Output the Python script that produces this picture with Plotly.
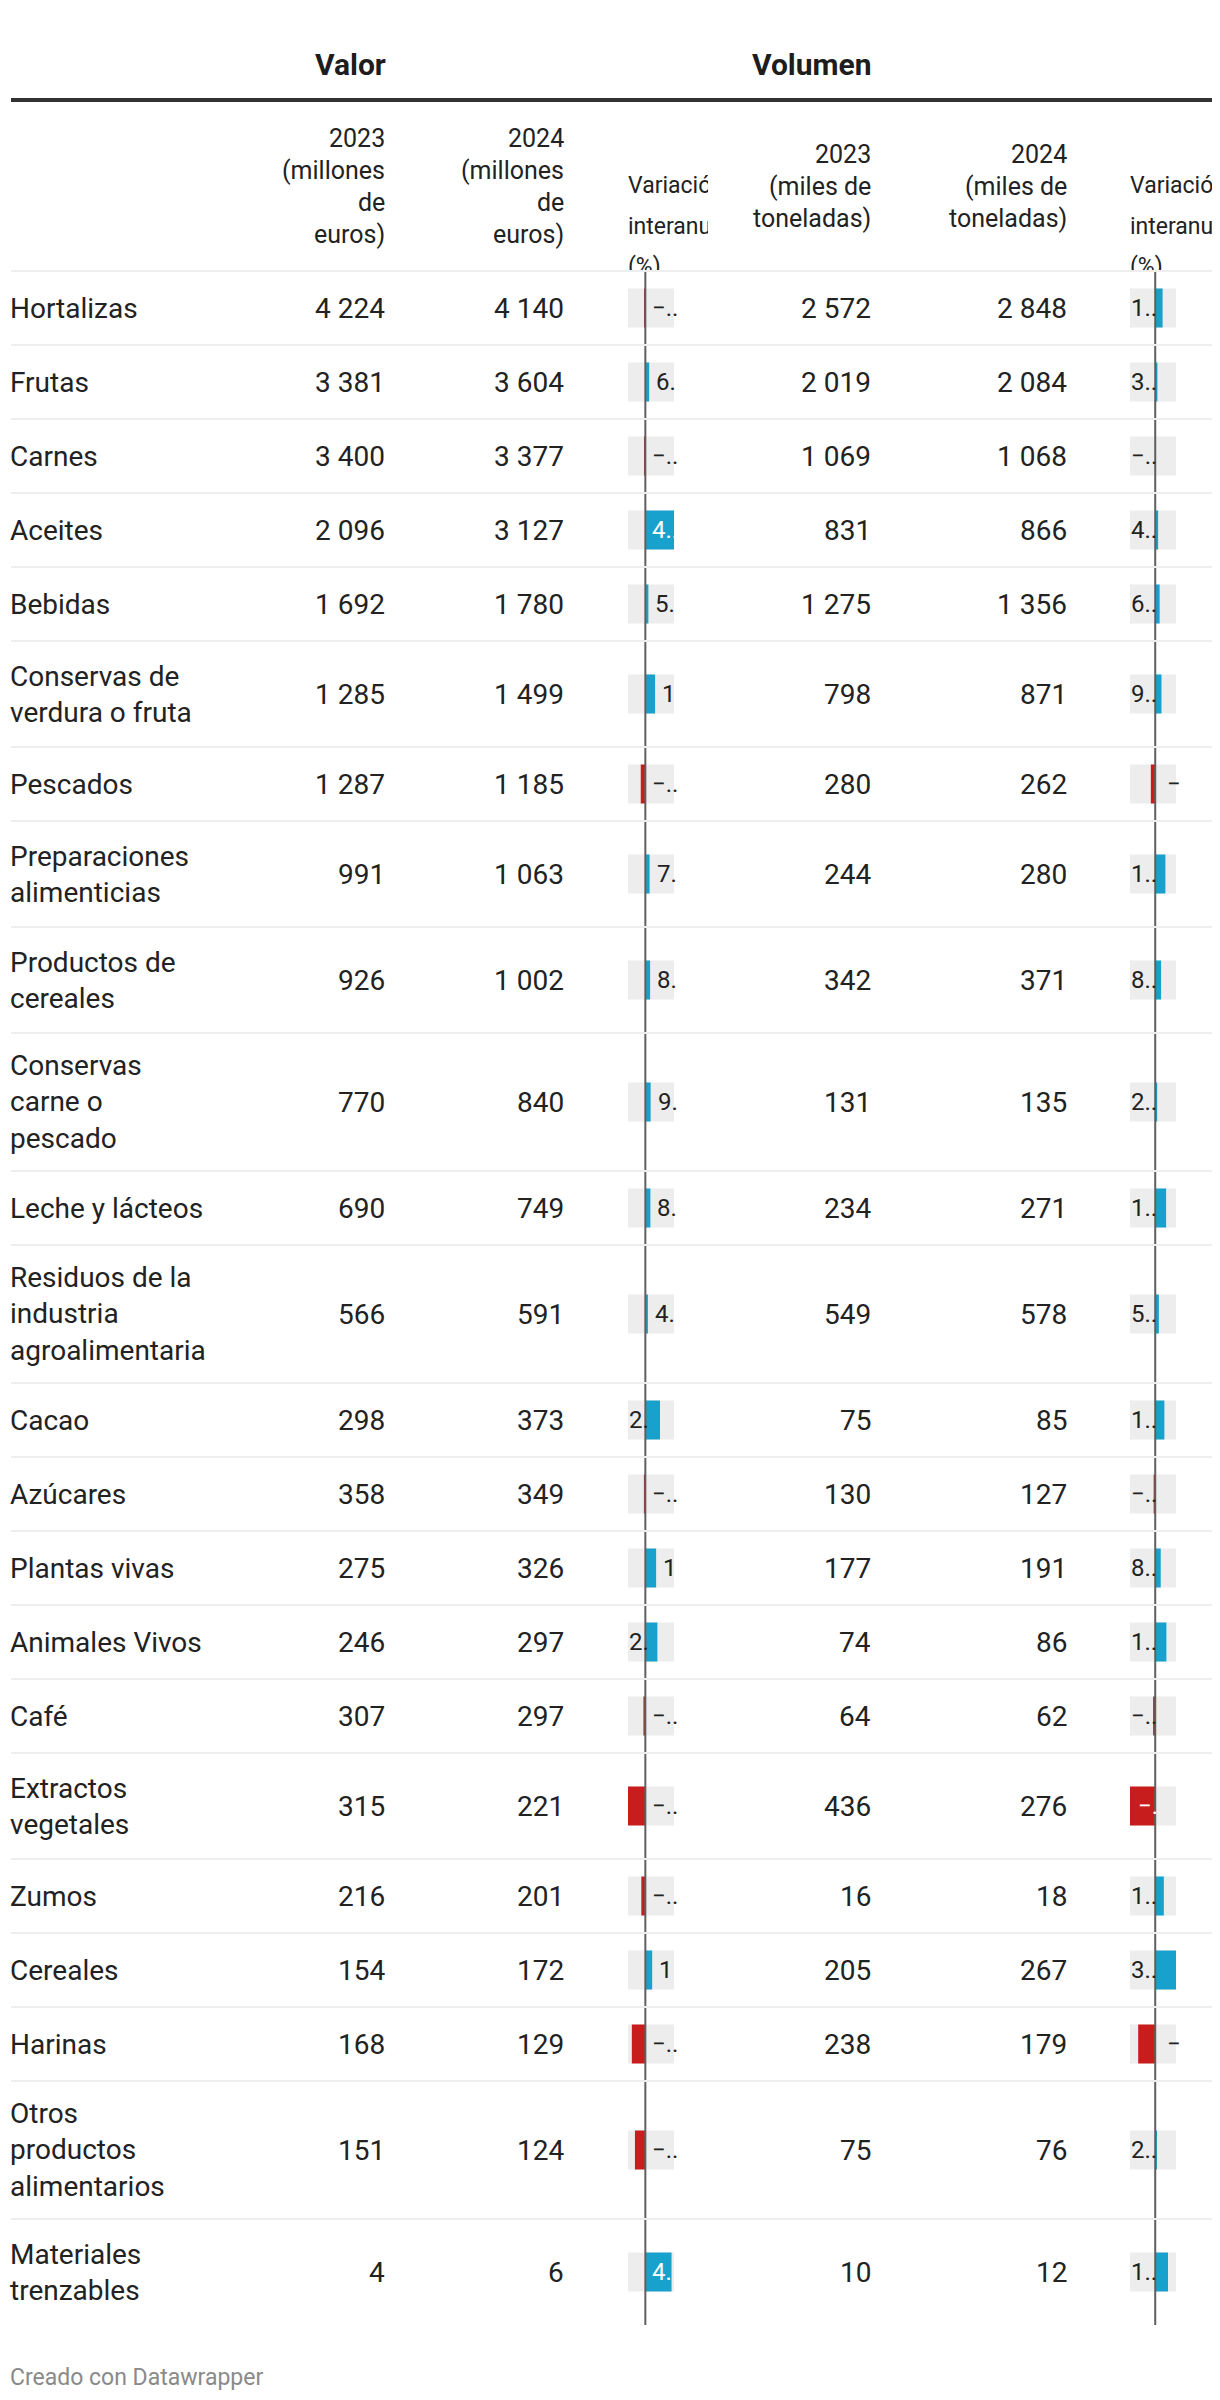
import plotly.graph_objects as go

# ---------------- data ----------------
categories = [
    "Hortalizas", "Frutas", "Carnes", "Aceites", "Bebidas",
    "Conservas de\nverdura o fruta", "Pescados", "Preparaciones\nalimenticias",
    "Productos de\ncereales", "Conservas\ncarne o\npescado", "Leche y lácteos",
    "Residuos de la\nindustria\nagroalimentaria", "Cacao", "Azúcares",
    "Plantas vivas", "Animales Vivos", "Café", "Extractos\nvegetales", "Zumos",
    "Cereales", "Harinas", "Otros\nproductos\nalimentarios", "Materiales\ntrenzables",
]
valor_2023 = [4224, 3381, 3400, 2096, 1692, 1285, 1287, 991, 926, 770, 690, 566,
              298, 358, 275, 246, 307, 315, 216, 154, 168, 151, 4]
valor_2024 = [4140, 3604, 3377, 3127, 1780, 1499, 1185, 1063, 1002, 840, 749, 591,
              373, 349, 326, 297, 297, 221, 201, 172, 129, 124, 6]
valor_var = [-2.0, 6.6, -0.7, 49.2, 5.2, 16.7, -7.9, 7.3, 8.2, 9.1, 8.6, 4.4,
             25.2, -2.5, 18.5, 20.7, -3.3, -29.8, -6.9, 11.7, -23.2, -17.9, 45.0]
valor_var_labels = ["−..", "6.", "−..", "4..", "5.", "1", "−..", "7.", "8.", "9.",
                    "8.", "4.", "2.", "−..", "1", "2.", "−..", "−..", "−..", "1",
                    "−..", "−..", "4."]
volumen_2023 = [2572, 2019, 1069, 831, 1275, 798, 280, 244, 342, 131, 234, 549,
                75, 130, 177, 74, 64, 436, 16, 205, 238, 75, 10]
volumen_2024 = [2848, 2084, 1068, 866, 1356, 871, 262, 280, 371, 135, 271, 578,
                85, 127, 191, 86, 62, 276, 18, 267, 179, 76, 12]
volumen_var = [10.7, 3.2, -0.1, 4.2, 6.4, 9.1, -6.4, 14.8, 8.5, 2.8, 15.8, 5.3,
               13.3, -2.3, 8.0, 16.2, -3.1, -36.7, 12.5, 30.2, -24.8, 2.0, 18.6]
volumen_var_labels = ["1..", "3..", "−..", "4..", "6..", "9..", "−", "1..", "8..",
                      "2..", "1..", "5..", "1..", "−..", "8..", "1..", "−..", "−.",
                      "1..", "3..", "−", "2..", "1.."]

group_titles = ["Valor", "Volumen"]
valor_headers = ["2023", "(millones", "de", "euros)"]
valor_headers_24 = ["2024", "(millones", "de", "euros)"]
volumen_headers = ["2023", "(miles de", "toneladas)"]
volumen_headers_24 = ["2024", "(miles de", "toneladas)"]
var_header = ["Variación", "interanual", "(%)"]
footer = "Creado con Datawrapper"

# ---------------- styling ----------------
W, H = 1220, 2400
OFF = 8  # page body margin: data coordinates below are page pixels
FONT = "Roboto"
TEXT = "#222222"
BLUE = "#18a1cd"
RED = "#c71e1d"
BG = "#ededed"
SEP = "#eeeeee"
ZERO = "#5f5f5f"

HEADER_BOTTOM = 271
ROW_BASE, LINE_STEP = 74, 32
BAR_H = 39

X_LABEL = 8
X_V23, X_V24 = 387, 566
X_Q23, X_Q24 = 873, 1069
VAL_COL = (628, 674)
VOL_COL = (1130, 1176)


def fmt(n):
    return f"{n:,}".replace(",", "\u00a0")


def dom(p0, p1):
    return [(p0 - OFF) / W, (p1 - OFF) / W]


# row layout
n_lines = [c.count("\n") + 1 for c in categories]
tops, centers = [], []
y = HEADER_BOTTOM
for n in n_lines:
    h = ROW_BASE + LINE_STEP * (n - 1)
    tops.append(y)
    centers.append(y + h / 2)
    y += h
table_bottom = y

fig = go.Figure()
annotations = []
shapes = []


def ann(x, y, text, anchor="right", size=28, color=TEXT, xref="x", xshift=0, bold=False):
    annotations.append(dict(
        x=x, y=y, xref=xref, yref="y", text=(f"<b>{text}</b>" if bold else text),
        showarrow=False, xanchor=anchor, yanchor="middle", xshift=xshift,
        font=dict(family=FONT, size=size, color=color), align=anchor,
    ))


# group titles
ann(388, 64, group_titles[0], size=30, bold=True, color="#1d1d1d")
ann(874, 64, group_titles[1], size=30, bold=True, color="#1d1d1d")
shapes.append(dict(type="line", xref="x", yref="y", x0=11, x1=W + OFF, y0=100, y1=100,
                   line=dict(color="#333333", width=4), layer="above"))

# column headers
for i, t in enumerate(valor_headers):
    ann(X_V23, 138 + 32 * i, t, size=25)
for i, t in enumerate(valor_headers_24):
    ann(X_V24, 138 + 32 * i, t, size=25)
for i, t in enumerate(volumen_headers):
    ann(X_Q23, 154 + 32 * i, t, size=25)
for i, t in enumerate(volumen_headers_24):
    ann(X_Q24, 154 + 32 * i, t, size=25)

# variation headers (clipped text -> scatter text + white masks)
hy = [187, 228, 268]
for x0 in (VAL_COL[0], VOL_COL[0]):
    fig.add_trace(go.Scatter(
        x=[x0] * 3, y=hy, text=var_header, mode="text", textposition="middle right",
        textfont=dict(family=FONT, size=23, color=TEXT), hoverinfo="skip", xaxis="x", yaxis="y"))
shapes.append(dict(type="rect", xref="x", yref="y", x0=708, x1=736, y0=160, y1=290,
                   fillcolor="white", line=dict(width=0), layer="above"))
for x0, x1 in ((615, 712), (1120, W + OFF)):
    shapes.append(dict(type="rect", xref="x", yref="y", x0=x0, x1=x1, y0=HEADER_BOTTOM, y1=286,
                       fillcolor="white", line=dict(width=0), layer="above"))

# body text
for i, c in enumerate(categories):
    cy = centers[i]
    ann(X_LABEL, cy, c.replace("\n", "<br>"), anchor="left")
    ann(X_V23, cy, fmt(valor_2023[i]))
    ann(X_V24, cy, fmt(valor_2024[i]))
    ann(X_Q23, cy, fmt(volumen_2023[i]))
    ann(X_Q24, cy, fmt(volumen_2024[i]))

# bars
for vals, xa in ((valor_var, "x2"), (volumen_var, "x3")):
    fig.add_trace(go.Bar(
        x=vals, y=centers, orientation="h", width=BAR_H, base=0,
        marker=dict(color=[BLUE if v >= 0 else RED for v in vals], line=dict(width=0)),
        xaxis=xa, yaxis="y", hoverinfo="skip"))
    for cy in centers:
        shapes.append(dict(type="rect", xref=f"{xa} domain", yref="y", x0=0, x1=1,
                           y0=cy - BAR_H / 2, y1=cy + BAR_H / 2, fillcolor=BG,
                           line=dict(width=0), layer="below"))


def valor_label_pos(v):
    if v >= 40:
        return "inside"
    if v >= 20:
        return "left"
    return "right"


def volumen_label_pos(v):
    if v <= -30:
        return "inside"
    if v <= -5:
        return "right"
    return "left"


for i, cy in enumerate(centers):
    v = valor_var[i]
    pos = valor_label_pos(v)
    if pos == "inside":
        ann(0, cy, valor_var_labels[i], anchor="left", size=24, color="white", xref="x2", xshift=5)
    elif pos == "left":
        ann(0, cy, valor_var_labels[i], anchor="left", size=24, xref="x2 domain", xshift=-1)
    else:
        ann(max(v, 0), cy, valor_var_labels[i], anchor="left", size=24, xref="x2", xshift=5)

    v = volumen_var[i]
    pos = volumen_label_pos(v)
    if pos == "inside":
        ann(0, cy, volumen_var_labels[i], anchor="left", size=24, color="white", xref="x3 domain", xshift=6)
    elif pos == "right":
        ann(0, cy, volumen_var_labels[i], anchor="left", size=24, xref="x3", xshift=10)
    else:
        ann(0, cy, volumen_var_labels[i], anchor="left", size=24, xref="x3 domain", xshift=-1)

# zero lines
for xa in ("x2", "x3"):
    shapes.append(dict(type="line", xref=xa, yref="y", x0=0, x1=0, y0=HEADER_BOTTOM, y1=table_bottom,
                       line=dict(color=ZERO, width=2), layer="above"))
# row separators
for t in tops:
    shapes.append(dict(type="line", xref="x", yref="y", x0=11, x1=W + OFF, y0=t, y1=t,
                       line=dict(color=SEP, width=2), layer="above"))

# footer
ann(X_LABEL, 2377, footer, anchor="left", size=23, color="#8a8a8a")

fig.update_layout(
    width=W, height=H, margin=dict(l=0, r=0, t=0, b=0),
    paper_bgcolor="white", plot_bgcolor="rgba(0,0,0,0)", showlegend=False,
    barmode="overlay", font=dict(family=FONT, color=TEXT),
    xaxis=dict(range=[OFF, W + OFF], visible=False, domain=[0, 1], fixedrange=True),
    yaxis=dict(range=[H + OFF, OFF], visible=False, domain=[0, 1], fixedrange=True),
    xaxis2=dict(domain=dom(*VAL_COL), range=[min(valor_var), max(valor_var)],
                anchor="y", visible=False, fixedrange=True),
    xaxis3=dict(domain=dom(*VOL_COL), range=[min(volumen_var), max(volumen_var)],
                anchor="y", visible=False, fixedrange=True),
    annotations=annotations, shapes=shapes,
)

fig.write_html("out.html")
